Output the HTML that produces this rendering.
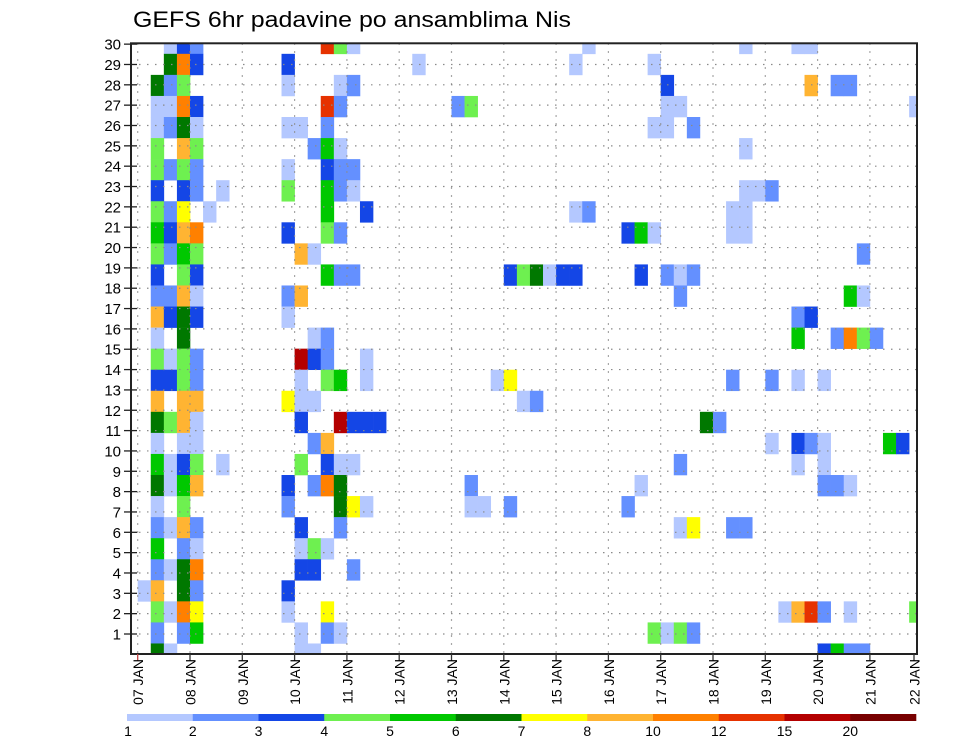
<!DOCTYPE html>
<html>
<head>
<meta charset="utf-8">
<style>
  html,body{margin:0;padding:0;background:#fff;}
  svg{display:block;}
  text{font-family:"Liberation Sans",sans-serif;fill:#000;}
</style>
</head>
<body>
<svg id="chart" width="960" height="742" viewBox="0 0 960 742" xmlns="http://www.w3.org/2000/svg">
  <text x="133" y="27" font-size="22" textLength="438" lengthAdjust="spacingAndGlyphs">GEFS 6hr padavine po ansamblima Nis</text>
  <g id="cellsG"></g>
  <g id="gridG"></g>
  <g id="axesG"></g>
  <g id="legendG"></g>
</svg>
<script>
// ---- data ----
const dayLabels = ['07 JAN','08 JAN','09 JAN','10 JAN','11 JAN','12 JAN','13 JAN','14 JAN','15 JAN','16 JAN','17 JAN','18 JAN','19 JAN','20 JAN','21 JAN','22 JAN'];
const memberLabels = [1,2,3,4,5,6,7,8,9,10,11,12,13,14,15,16,17,18,19,20,21,22,23,24,25,26,27,28,29,30];
const legendLabels = ['1','2','3','4','5','6','7','8','10','12','15','20'];
const levelColors = ['#b4c8ff','#6490ff','#1446e6','#6ef050','#00c800','#007800','#ffff00','#ffb432','#ff8000','#e63200','#b40000','#780000'];
// cells: [row (0=top), column (6h step from 07 JAN), level (1..12)]
const cells = [
[0,2,1],[0,3,3],[0,4,2],[0,14,10],[0,15,4],[0,16,1],[0,34,1],[0,46,1],[0,50,1],[0,51,1],
[1,2,6],[1,3,9],[1,4,3],[1,11,3],[1,21,1],[1,33,1],[1,39,1],
[2,1,6],[2,2,2],[2,3,4],[2,11,1],[2,15,1],[2,16,2],[2,40,3],[2,51,8],[2,53,2],[2,54,2],
[3,1,1],[3,2,1],[3,3,9],[3,4,3],[3,14,10],[3,15,2],[3,24,2],[3,25,4],[3,40,1],[3,41,1],[3,59,1],
[4,1,1],[4,2,2],[4,3,6],[4,4,1],[4,11,1],[4,12,1],[4,14,2],[4,39,1],[4,40,1],[4,42,2],
[5,1,4],[5,3,8],[5,4,4],[5,13,2],[5,14,5],[5,15,1],[5,46,1],
[6,1,4],[6,2,2],[6,3,4],[6,4,2],[6,11,1],[6,14,3],[6,15,2],[6,16,2],
[7,1,3],[7,3,3],[7,4,2],[7,6,1],[7,11,4],[7,14,5],[7,15,2],[7,16,1],[7,46,1],[7,47,1],[7,48,2],
[8,1,4],[8,2,2],[8,3,7],[8,5,1],[8,14,5],[8,17,3],[8,33,1],[8,34,2],[8,45,1],[8,46,1],
[9,1,5],[9,2,3],[9,3,8],[9,4,9],[9,11,3],[9,14,4],[9,15,2],[9,37,3],[9,38,5],[9,39,1],[9,45,1],[9,46,1],
[10,1,4],[10,2,2],[10,3,5],[10,4,4],[10,12,8],[10,13,1],[10,55,2],
[11,1,3],[11,3,4],[11,4,3],[11,14,5],[11,15,2],[11,16,2],[11,28,3],[11,29,4],[11,30,6],[11,31,1],[11,32,3],[11,33,3],[11,38,3],[11,40,2],[11,41,1],[11,42,2],
[12,1,2],[12,2,2],[12,3,8],[12,4,1],[12,11,2],[12,12,8],[12,41,2],[12,54,5],[12,55,1],
[13,1,8],[13,2,3],[13,3,6],[13,4,3],[13,11,1],[13,50,2],[13,51,3],
[14,1,1],[14,3,6],[14,13,1],[14,14,2],[14,50,5],[14,53,2],[14,54,9],[14,55,4],[14,56,2],
[15,1,4],[15,2,1],[15,3,4],[15,4,2],[15,12,11],[15,13,3],[15,14,2],[15,17,1],
[16,1,3],[16,2,3],[16,3,4],[16,4,2],[16,12,1],[16,14,4],[16,15,5],[16,17,1],[16,27,1],[16,28,7],[16,45,2],[16,48,2],[16,50,1],[16,52,1],
[17,1,8],[17,3,8],[17,4,8],[17,11,7],[17,12,1],[17,13,1],[17,29,1],[17,30,2],
[18,1,6],[18,2,4],[18,3,8],[18,4,1],[18,12,3],[18,15,11],[18,16,3],[18,17,3],[18,18,3],[18,43,6],[18,44,2],
[19,1,1],[19,3,1],[19,4,1],[19,13,2],[19,14,8],[19,48,1],[19,50,3],[19,51,2],[19,52,1],[19,57,5],[19,58,3],
[20,1,5],[20,2,1],[20,3,3],[20,4,4],[20,6,1],[20,12,4],[20,14,3],[20,15,1],[20,16,1],[20,41,2],[20,50,1],[20,52,1],
[21,1,6],[21,2,1],[21,3,5],[21,4,8],[21,11,3],[21,13,2],[21,14,9],[21,15,6],[21,25,2],[21,38,1],[21,52,2],[21,53,2],[21,54,1],
[22,1,1],[22,3,4],[22,11,2],[22,15,6],[22,16,7],[22,17,1],[22,25,1],[22,26,1],[22,28,2],[22,37,2],
[23,1,2],[23,2,1],[23,3,8],[23,4,2],[23,12,3],[23,15,2],[23,41,1],[23,42,7],[23,45,2],[23,46,2],
[24,1,5],[24,3,2],[24,4,1],[24,12,1],[24,13,4],[24,14,1],
[25,1,2],[25,2,1],[25,3,6],[25,4,9],[25,12,3],[25,13,3],[25,16,2],
[26,0,1],[26,1,8],[26,3,6],[26,4,2],[26,11,3],
[27,1,4],[27,2,1],[27,3,9],[27,4,7],[27,11,1],[27,14,7],[27,49,1],[27,50,8],[27,51,10],[27,52,2],[27,54,1],[27,59,4],
[28,1,2],[28,3,2],[28,4,5],[28,12,1],[28,14,2],[28,15,1],[28,39,4],[28,40,1],[28,41,4],[28,42,2],
[29,1,6],[29,2,1],[29,12,1],[29,13,1],[29,52,3],[29,53,5],[29,54,2],[29,55,2]
];

// ---- layout ----
const NS = 'http://www.w3.org/2000/svg';
const plotL = 131, plotR = 917, plotT = 43.3, plotB = 654;
const x0 = 137.7, dayW = 52.3, colW = dayW / 4;
const rowH = (plotB - plotT) / 29;
function xDay(d){ return x0 + d * dayW; }
function xCol(c){ return x0 + c * colW; }
function yRow(r){ return plotT + r * rowH; }            // cell centre
function yLabel(k){ return 634 - (k - 1) * 20.34; }      // member axis

function mk(tag, attrs, parent){
  const e = document.createElementNS(NS, tag);
  for (const k in attrs) e.setAttribute(k, attrs[k]);
  parent.appendChild(e);
  return e;
}

const defs = mk('defs', {}, document.getElementById('chart'));
const cp = mk('clipPath', {id:'plotClip'}, defs);
mk('rect', {x:plotL, y:plotT, width:plotR-plotL, height:plotB-plotT}, cp);

// cells
const cellsG = document.getElementById('cellsG');
cellsG.setAttribute('clip-path', 'url(#plotClip)');
cells.forEach(function(cell){
  const r = cell[0], c = cell[1], lv = cell[2];
  const el = mk('rect', {x:xCol(c), y:yRow(r) - rowH/2, width:colW + 0.3, height:rowH + 0.3, fill:levelColors[lv-1]}, cellsG);
  
  
});

// grid
const gridG = document.getElementById('gridG');
memberLabels.forEach(function(k){
  const y = yLabel(k);
  if (y < plotT + 2) return;
  const el = mk('line', {x1:plotL, x2:plotR, y1:y, y2:y, stroke:'#8a8a8a', 'stroke-width':1.2, 'stroke-dasharray':'1.5 6.5'}, gridG);
  
  
});
dayLabels.forEach(function(lbl, d){
  const x = xDay(d);
  if (x > plotR - 2) return;
  const el = mk('line', {x1:x, x2:x, y1:plotT, y2:plotB, stroke:'#8a8a8a', 'stroke-width':1.2, 'stroke-dasharray':'1.5 6.5'}, gridG);
  
  
});

// axes
const axesG = document.getElementById('axesG');
const frame = mk('rect', {x:plotL, y:plotT, width:plotR-plotL, height:plotB-plotT, fill:'none', stroke:'#222', 'stroke-width':2}, axesG);


memberLabels.forEach(function(k){
  const y = yLabel(k);
  const t = mk('line', {x1:124, x2:137, y1:y, y2:y, stroke:'#222', 'stroke-width':1.3}, axesG);
  
  
  const tx = mk('text', {x:121, y:y + 5.5, 'font-size':15, 'text-anchor':'end'}, axesG);
  tx.textContent = String(k);
  
  
});
dayLabels.forEach(function(lbl, d){
  const x = Math.min(xDay(d), 914);
  const t = mk('line', {x1:x, x2:x, y1:plotB, y2:plotB + 7, stroke: d === 0 ? '#c04040' : '#333', 'stroke-width':1.3}, axesG);
  
  
  const tx = mk('text', {x:0, y:0, 'font-size':14, 'text-anchor':'end', transform:'translate(' + (x + 5.5) + ',659) rotate(-90)'}, axesG);
  tx.textContent = lbl;
  
  
});

// legend
const legendG = document.getElementById('legendG');
const segW = (916 - 127) / levelColors.length;
levelColors.forEach(function(col, i){
  const r = mk('rect', {x:127 + i*segW, y:714, width:segW + 0.3, height:7, fill:col}, legendG);
  
  
});
legendLabels.forEach(function(lbl, i){
  const tx = mk('text', {x:127 + i*segW + (i === 0 ? 1 : 0), y:736, 'font-size':14, 'text-anchor':'middle'}, legendG);
  tx.textContent = lbl;
  
  
});
</script>
</body>
</html>
